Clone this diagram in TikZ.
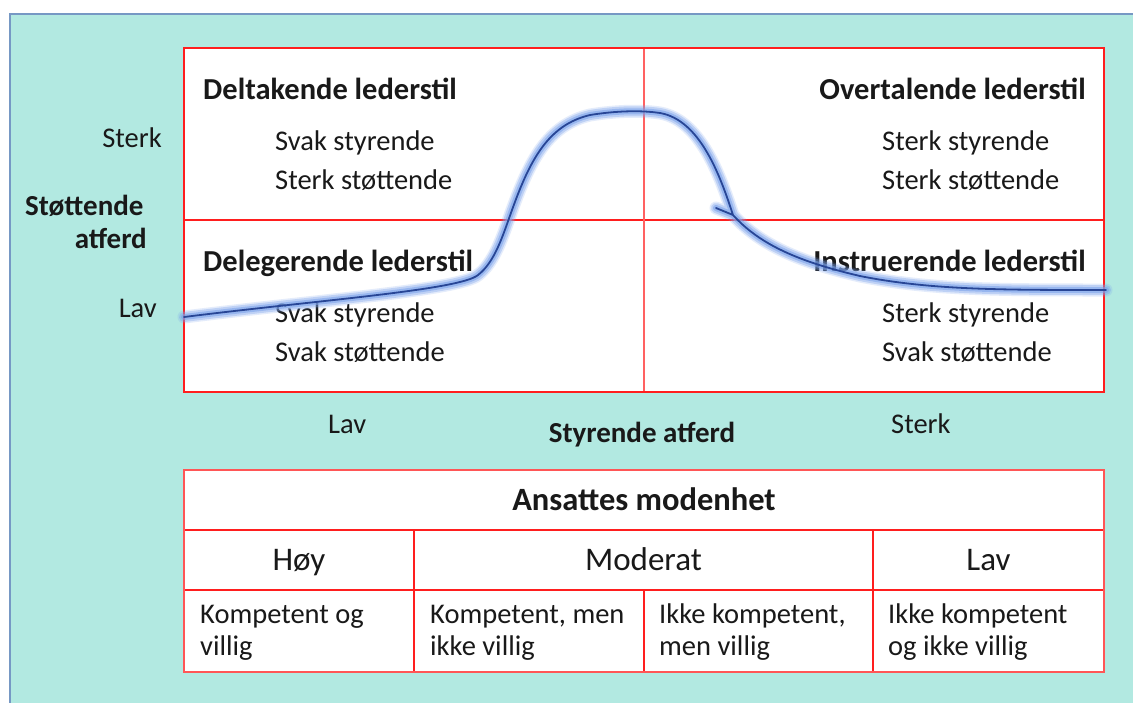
\documentclass[tikz,border=0pt]{standalone}
\usepackage{fontspec}
\setmainfont{Carlito}
\definecolor{teal}{RGB}{178,233,225}
\definecolor{tealborder}{RGB}{118,152,196}
\definecolor{gridred}{RGB}{255,30,30}
\definecolor{txt}{RGB}{25,25,25}
\definecolor{curve}{RGB}{40,70,150}
\definecolor{glow}{RGB}{120,160,235}
\tikzset{
  reg/.style={font=\fontsize{28.5}{34}\selectfont, text=txt, inner sep=0pt},
  bld/.style={font=\fontsize{30.5}{34}\selectfont\bfseries, text=txt, inner sep=0pt},
  axb/.style={font=\fontsize{29}{34}\selectfont\bfseries, text=txt, inner sep=0pt},
  big/.style={font=\fontsize{33}{38}\selectfont, text=txt, inner sep=0pt},
  bigb/.style={font=\fontsize{32.5}{38}\selectfont\bfseries, text=txt, inner sep=0pt},
  redline/.style={draw=gridred, line width=1.5pt},
  glowline/.style={draw=glow, line cap=round, line join=round},
}
\begin{document}
\begin{tikzpicture}[x=1pt,y=-1pt]
\path[use as bounding box] (0,0) rectangle (1133,702);
\fill[white] (0,0) rectangle (1133,702);
\begin{scope}
\clip (0,0) rectangle (1133,702);
\draw[fill=teal, draw=tealborder, line width=2pt] (10,14) rectangle (1150,720);
\end{scope}
% quadrant box
\fill[white] (184,48) rectangle (1104,392);
\draw[redline] (184,220) -- (1104,220);
\draw[redline, draw=gridred!70] (644,48) -- (644,392);
\draw[redline] (184,48) rectangle (1104,392);
% table
\fill[white] (184,470) rectangle (1104,672);
\draw[redline] (184,530) -- (1104,530);
\draw[redline] (184,590) -- (1104,590);
\draw[redline] (414,530) -- (414,672);
\draw[redline] (873,530) -- (873,672);
\draw[redline] (644,590) -- (644,672);
\draw[redline, draw=gridred!75] (184,470) rectangle (1104,672);
% quadrant texts
\node[bld, anchor=base west] (q1) at (203,99) {Deltakende lederstil};
\node[reg, anchor=base west] (q1a) at (275,150) {Svak styrende};
\node[reg, anchor=base west] (q1b) at (275,189) {Sterk støttende};
\node[bld, anchor=base east] (q2) at (1086,99) {Overtalende lederstil};
\node[reg, anchor=base west] (q2a) at (882,150) {Sterk styrende};
\node[reg, anchor=base west] (q2b) at (882,189) {Sterk støttende};
\node[bld, anchor=base west] (q3) at (203,271) {Delegerende lederstil};
\node[reg, anchor=base west] (q3a) at (275,322) {Svak styrende};
\node[reg, anchor=base west] (q3b) at (275,361) {Svak støttende};
\node[bld, anchor=base east] (q4) at (1086,271) {Instruerende lederstil};
\node[reg, anchor=base west] (q4a) at (882,322) {Sterk styrende};
\node[reg, anchor=base west] (q4b) at (882,361) {Svak støttende};
% axis labels
\node[reg, anchor=base east] (ysterk) at (162,147) {Sterk};
\node[axb, anchor=base west] (ylab1) at (25,215) {Støttende};
\node[axb, anchor=base east] (ylab2) at (147,248) {atferd};
\node[reg, anchor=base east] (ylav) at (157,317) {Lav};
\node[reg, anchor=base west] (xlav) at (328,433) {Lav};
\node[axb, anchor=base] (xlab) at (642,442) {Styrende atferd};
\node[reg, anchor=base west] (xsterk) at (891,433) {Sterk};
% table texts
\node[bigb, anchor=base] (th) at (644,510) {Ansattes modenhet};
\node[big, anchor=base] (t1) at (299,570) {Høy};
\node[big, anchor=base] (t2) at (643.5,570) {Moderat};
\node[big, anchor=base] (t3) at (988.5,570) {Lav};
\node[reg, anchor=base west] (c1) at (200,623) {Kompetent og};
\node[reg, anchor=base west] (c1b) at (200,655) {villig};
\node[reg, anchor=base west] (c2) at (430,623) {Kompetent, men};
\node[reg, anchor=base west] (c2b) at (430,655) {ikke villig};
\node[reg, anchor=base west] (c3) at (659,623) {Ikke kompetent,};
\node[reg, anchor=base west] (c3b) at (659,655) {men villig};
\node[reg, anchor=base west] (c4) at (888,623) {Ikke kompetent};
\node[reg, anchor=base west] (c4b) at (888,655) {og ikke villig};
% curve
\def\curvepath{(184,317) .. controls (320,300) and (460,290) .. (478,275)
  .. controls (495,262) and (503,235) .. (512,210)
  .. controls (530,160) and (548,125) .. (590,115)
  .. controls (615,111) and (640,110) .. (660,113)
  .. controls (700,120) and (720,175) .. (733,215)
  .. controls (760,245) and (800,262) .. (860,276)
  .. controls (930,290) and (1000,290) .. (1106,290)
  (716,208) -- (733,215)}
\draw[glowline, line width=13pt, opacity=0.2] \curvepath;
\draw[glowline, line width=10pt, opacity=0.35] \curvepath;
\draw[glowline, line width=6pt, opacity=0.55] \curvepath;
\draw[draw=curve, line width=1.8pt, line cap=round, line join=round] \curvepath;
\end{tikzpicture}
\end{document}
